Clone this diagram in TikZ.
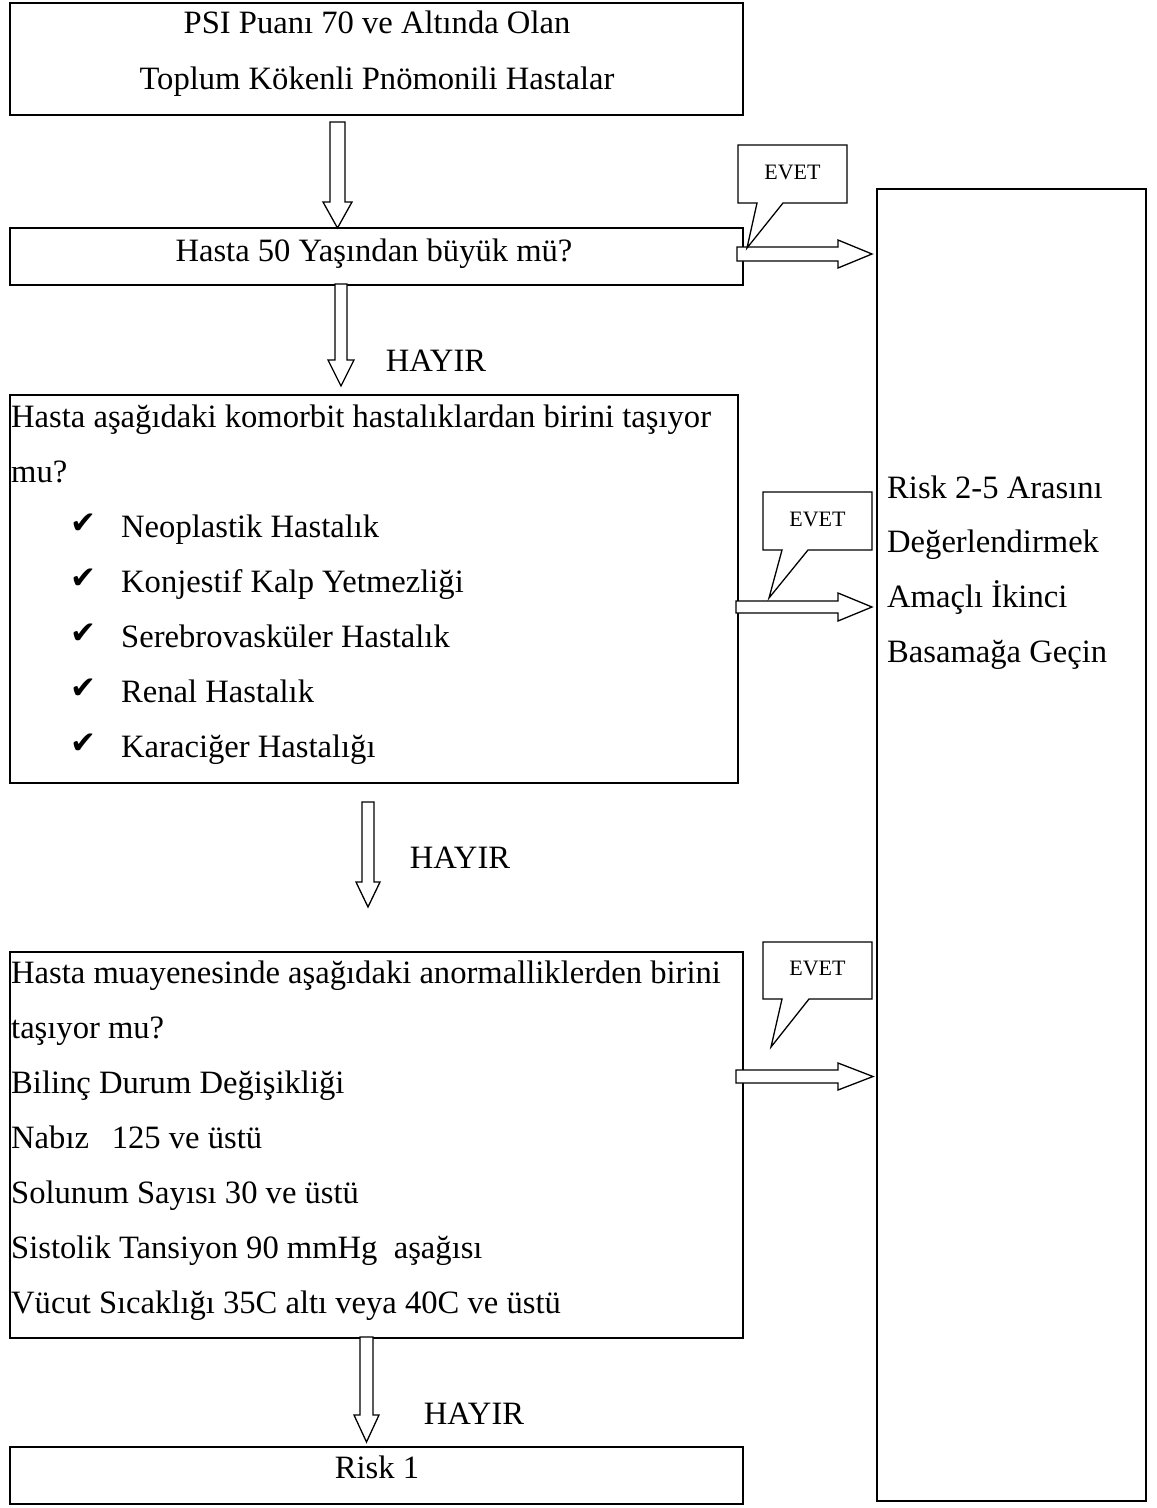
\documentclass[tikz,border=0pt]{standalone}
\usepackage{fontspec}
\setmainfont{Liberation Serif}
\newfontfamily\symfont{DejaVu Sans}
\begin{document}
\begin{tikzpicture}[x=1pt,y=-1pt,
  box/.style={draw=black,line width=1.6pt},
  barrow/.style={draw=black,fill=white,line width=1.3pt,line join=miter},
  callout/.style={draw=black,fill=white,line width=1.3pt,line join=miter},
  txt/.style={inner sep=0pt,font=\fontsize{32.6}{38}\selectfont},
  lt/.style={txt,anchor=base west},
  ct/.style={txt,anchor=base},
  evet/.style={inner sep=0pt,font=\fontsize{22}{26}\selectfont},
  chk/.style={inner sep=0pt,anchor=base east,font=\symfont\fontsize{31}{36}\selectfont}]
\useasboundingbox[fill=white] (0,0) rectangle (1157,1508);

% boxes
\draw[box] (10,3) rectangle (743,115);
\draw[box] (10,228) rectangle (743,285);
\draw[box] (10,395) rectangle (738,783);
\draw[box] (10,952) rectangle (743,1338);
\draw[box] (10,1447) rectangle (743,1504);
\draw[box] (877,189) rectangle (1146,1501);

% box 1
\node[ct] (b1a) at (377,33) {PSI Puanı 70 ve Altında Olan};
\node[ct] (b1b) at (377,89) {Toplum Kökenli Pnömonili Hastalar};
% box 2
\node[ct] (b2) at (374,261) {Hasta 50 Yaşından büyük mü?};
% box 3
\node[lt] (b3a) at (11,427) {Hasta aşağıdaki komorbit hastalıklardan birini taşıyor};
\node[lt] (b3b) at (11,482) {mu?};
\node[lt] (b3c) at (121,537) {Neoplastik Hastalık};
\node[lt] (b3d) at (121,592) {Konjestif Kalp Yetmezliği};
\node[lt] (b3e) at (121,647) {Serebrovasküler Hastalık};
\node[lt] (b3f) at (121,702) {Renal Hastalık};
\node[lt] (b3g) at (121,757) {Karaciğer Hastalığı};
\foreach \yy/\nm in {537/c1,592/c2,647/c3,702/c4,757/c5}
  \node[chk] (\nm) at (97,\yy-4) {✔};
% box 4
\node[lt] (b4a) at (11,983) {Hasta muayenesinde aşağıdaki anormalliklerden birini};
\node[lt] (b4b) at (11,1038) {taşıyor mu?};
\node[lt] (b4c) at (11,1093) {Bilinç Durum Değişikliği};
\node[lt] (b4d) at (11,1148) {Nabız\hspace{0.7em}125 ve üstü};
\node[lt] (b4e) at (11,1203) {Solunum Sayısı 30 ve üstü};
\node[lt] (b4f) at (11,1258) {Sistolik Tansiyon 90 mmHg\hspace{0.5em}aşağısı};
\node[lt] (b4g) at (11,1313) {Vücut Sıcaklığı 35C altı veya 40C ve üstü};
% box 5
\node[ct] (b5) at (377,1478) {Risk 1};
% right box
\node[lt] (r1) at (887,498) {Risk 2-5 Arasını};
\node[lt] (r2) at (887,552) {Değerlendirmek};
\node[lt] (r3) at (887,607) {Amaçlı İkinci};
\node[lt] (r4) at (887,662) {Basamağa Geçin};
% HAYIR labels
\node[ct] (h1) at (436,371) {HAYIR};
\node[ct] (h2) at (460,868) {HAYIR};
\node[ct] (h3) at (474,1424) {HAYIR};

% down block arrows
\draw[barrow] (330,122) -- (345,122) -- (345,202) -- (352,202) -- (337.5,228) -- (323,202) -- (330,202) -- cycle;
\draw[barrow] (335,284) -- (347,284) -- (347,360) -- (354,360) -- (341,386) -- (328,360) -- (335,360) -- cycle;
\draw[barrow] (362,802) -- (374,802) -- (374,882) -- (380,882) -- (368,907) -- (356,882) -- (362,882) -- cycle;
\draw[barrow] (360,1337) -- (373,1337) -- (373,1415) -- (379,1415) -- (366.5,1442) -- (354,1415) -- (360,1415) -- cycle;

% right block arrows
\draw[barrow] (737,247) -- (838,247) -- (838,240) -- (872,254) -- (838,268) -- (838,261) -- (737,261) -- cycle;
\draw[barrow] (736,601) -- (838,601) -- (838,593) -- (872,607) -- (838,621) -- (838,613) -- (736,613) -- cycle;
\draw[barrow] (736,1070) -- (838,1070) -- (838,1063) -- (873,1076.5) -- (838,1090) -- (838,1083) -- (736,1083) -- cycle;

% callouts
\draw[callout] (738,145) -- (847,145) -- (847,203) -- (783,203) -- (747,248) -- (757,203) -- (738,203) -- cycle;
\node[evet] (e1) at (792.5,172) {EVET};
\draw[callout] (763,492) -- (872,492) -- (872,550) -- (808,550) -- (769,598) -- (782,550) -- (763,550) -- cycle;
\node[evet] (e2) at (817.5,519) {EVET};
\draw[callout] (763,942) -- (872,942) -- (872,999) -- (809,999) -- (771,1047) -- (782,999) -- (763,999) -- cycle;
\node[evet] (e3) at (817.5,968) {EVET};
\end{tikzpicture}
\end{document}
